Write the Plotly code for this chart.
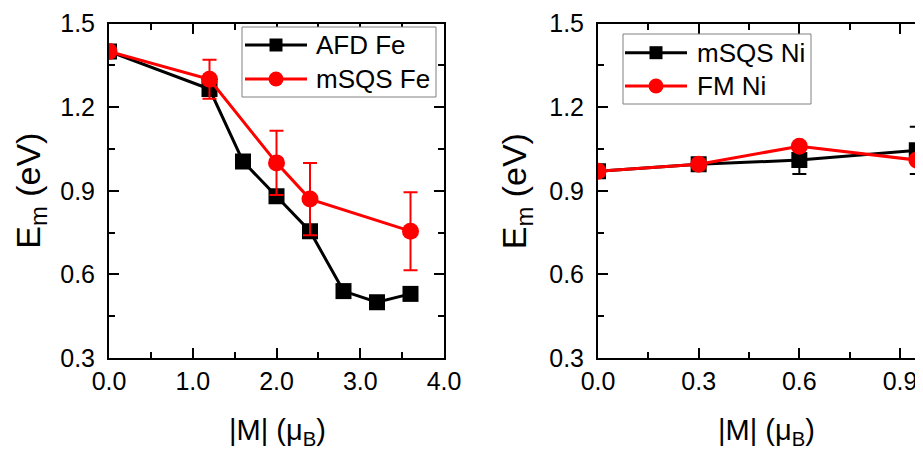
import plotly.graph_objects as go

# ---------------- data ----------------
fe_afd_x = [0.0, 1.2, 1.6, 2.0, 2.4, 2.8, 3.2, 3.6]
fe_afd_y = [1.40, 1.265, 1.005, 0.88, 0.755, 0.54, 0.50, 0.53]

fe_msqs_x = [0.0, 1.2, 2.0, 2.4, 3.6]
fe_msqs_y = [1.40, 1.30, 1.00, 0.87, 0.755]
fe_msqs_err = [0.0, 0.07, 0.115, 0.13, 0.14]

ni_msqs_x = [0.0, 0.3, 0.6, 0.95]
ni_msqs_y = [0.97, 0.995, 1.01, 1.045]
ni_msqs_err = [0.0, 0.0, 0.05, 0.085]

ni_fm_x = [0.0, 0.3, 0.6, 0.95]
ni_fm_y = [0.97, 0.995, 1.06, 1.01]

y_ticks = [0.3, 0.6, 0.9, 1.2, 1.5]
fe_x_ticks = [0.0, 1.0, 2.0, 3.0, 4.0]
ni_x_ticks = [0.0, 0.3, 0.6, 0.9]

FONT = "Liberation Sans, Arial, sans-serif"
BLACK = "#000000"
RED = "#ff0000"

# page has an 8px body margin -> build the figure 8px smaller and offset coordinates
OFF = 8
W, H = 923 - OFF, 455 - OFF


def px(x):
    return (x - OFF) / W


def py(y):
    return 1 - (y - OFF) / H


series = [
    dict(x=fe_afd_x, y=fe_afd_y, err=None, name="AFD Fe", color=BLACK, symbol="square", ax=("x", "y")),
    dict(x=fe_msqs_x, y=fe_msqs_y, err=fe_msqs_err, name="mSQS Fe", color=RED, symbol="circle", ax=("x", "y")),
    dict(x=ni_msqs_x, y=ni_msqs_y, err=ni_msqs_err, name="mSQS Ni", color=BLACK, symbol="square", ax=("x2", "y2")),
    dict(x=ni_fm_x, y=ni_fm_y, err=None, name="FM Ni", color=RED, symbol="circle", ax=("x2", "y2")),
]

fig = go.Figure()
for s in series:
    kw = {}
    if s["err"] is not None:
        kw["error_y"] = dict(type="data", array=s["err"], color=s["color"], thickness=2, width=7)
    fig.add_trace(go.Scatter(
        x=s["x"], y=s["y"], name=s["name"], mode="lines+markers",
        line=dict(color=s["color"], width=3),
        marker=dict(symbol=s["symbol"], size=16 if s["symbol"] == "square" else 17, color=s["color"]),
        xaxis=s["ax"][0], yaxis=s["ax"][1], showlegend=False, **kw))

ydom = [py(358), py(23.5)]

axis_common = dict(
    showline=True, linecolor=BLACK, linewidth=2,
    ticks="inside", ticklen=10, tickwidth=2, tickcolor=BLACK,
    showgrid=False, zeroline=False, automargin=False,
    tickfont=dict(family=FONT, size=25, color=BLACK),
)
minor_common = dict(ticks="inside", ticklen=6, tickwidth=2, tickcolor=BLACK, showgrid=False)

fig.update_layout(
    width=W, height=H, autosize=False,
    margin=dict(l=0, r=0, t=0, b=0, pad=0, autoexpand=False),
    paper_bgcolor="white", plot_bgcolor="white",
    showlegend=False,
    xaxis=dict(domain=[px(109), px(444)], range=[0, 4.0], anchor="y",
               tickvals=fe_x_ticks, tickformat=".1f", mirror="ticks",
               ticklabelstandoff=0, minor=dict(dtick=0.5, **minor_common),
               **axis_common),
    yaxis=dict(domain=ydom, range=[0.3, 1.5], anchor="x",
               tickvals=y_ticks, tickformat=".1f", mirror="ticks",
               ticklabelstandoff=7, minor=dict(dtick=0.15, **minor_common),
               **axis_common),
    xaxis2=dict(domain=[px(598), 1.0], range=[0, 0.9685], anchor="y2",
                tickvals=ni_x_ticks, tickformat=".1f", mirror="ticks",
                ticklabelstandoff=0, minor=dict(dtick=0.15, **minor_common),
                **axis_common),
    yaxis2=dict(domain=ydom, range=[0.3, 1.5], anchor="x2",
                tickvals=y_ticks, tickformat=".1f", mirror=False,
                ticklabelstandoff=7, minor=dict(dtick=0.15, **minor_common),
                **axis_common),
    yaxis3=dict(overlaying="y2", side="right", anchor="free", position=1.0,
                range=[0.3, 1.5], tickvals=y_ticks, showticklabels=False,
                showline=False, showgrid=False, zeroline=False,
                ticks="inside", ticklen=3, tickwidth=2, tickcolor=BLACK),
)

# ---------------- legends (drawn as boxes, sample lines, markers and text) ----------------
legends = [
    dict(box=(242, 27, 436, 97), rows=(45, 79), line=(245, 307), text_x=314,
         items=[series[0], series[1]]),
    dict(box=(623, 34, 811, 104), rows=(52.7, 86), line=(625, 687), text_x=695,
         items=[series[2], series[3]]),
]
shapes = []
for lg in legends:
    x0, y0, x1, y1 = lg["box"]
    shapes.append(dict(type="rect", xref="paper", yref="paper", x0=px(x0), y0=py(y1), x1=px(x1), y1=py(y0),
                       line=dict(color="#808080", width=1), fillcolor="white", layer="above"))
    for ry, it in zip(lg["rows"], lg["items"]):
        lx0, lx1 = lg["line"]
        shapes.append(dict(type="line", xref="paper", yref="paper", x0=px(lx0), x1=px(lx1), y0=py(ry), y1=py(ry),
                           line=dict(color=it["color"], width=3), layer="above"))
        cx = (lx0 + lx1) / 2
        if it["symbol"] == "square":
            r = 6.5
            shapes.append(dict(type="rect", xref="paper", yref="paper", x0=px(cx - r), x1=px(cx + r),
                               y0=py(ry + r), y1=py(ry - r), line=dict(width=0), fillcolor=it["color"], layer="above"))
        else:
            r = 7.5
            shapes.append(dict(type="circle", xref="paper", yref="paper", x0=px(cx - r), x1=px(cx + r),
                               y0=py(ry + r), y1=py(ry - r), line=dict(width=0), fillcolor=it["color"], layer="above"))
        fig.add_annotation(text=it["name"], x=px(lg["text_x"]), y=py(ry), xref="paper", yref="paper",
                           showarrow=False, xanchor="left", yanchor="middle",
                           font=dict(family=FONT, size=26, color=BLACK))
fig.update_layout(shapes=shapes)

title_font = dict(family=FONT, size=34, color=BLACK)
xt_font = dict(family=FONT, size=29, color=BLACK)
# y titles: box anchored at its left edge so it stays inside the figure
for tx in (OFF + 0.5, 494):
    fig.add_annotation(text="E<sub>m</sub> (eV)", x=px(tx), y=py(190.75), xref="paper", yref="paper",
                       textangle=-90, showarrow=False, font=title_font, xanchor="left", yanchor="middle",
                       borderpad=0)
for tx in (277, 766):
    fig.add_annotation(text="|M| (μ<sub>B</sub>)", x=px(tx), y=py(432), xref="paper", yref="paper",
                       showarrow=False, font=xt_font, xanchor="center", yanchor="middle")

fig.write_html("out.html")
